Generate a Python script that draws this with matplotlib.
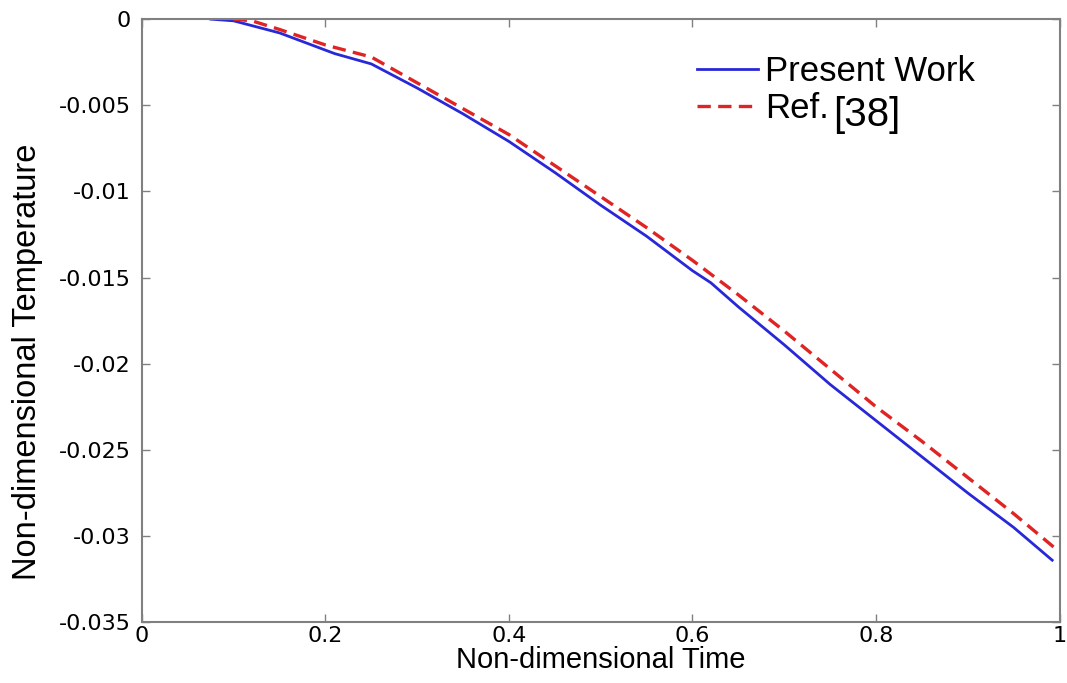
import matplotlib
matplotlib.use("Agg")
import matplotlib.pyplot as plt

# values
t_present = [0.075, 0.10, 0.15, 0.20, 0.21, 0.25, 0.30, 0.35, 0.40, 0.45, 0.50, 0.55, 0.58,
             0.60, 0.62, 0.65, 0.70, 0.75, 0.80, 0.85, 0.90, 0.95, 0.992]
T_present = [0.0, -0.0001, -0.0008, -0.0018, -0.0020, -0.0026, -0.0040, -0.0055, -0.0071,
             -0.0089, -0.0108, -0.0126, -0.0138, -0.0146, -0.0153, -0.0167, -0.0189, -0.0212,
             -0.0233, -0.0254, -0.0275, -0.0295, -0.0314]

t_ref = [0.10, 0.12, 0.15, 0.20, 0.25, 0.27, 0.30, 0.35, 0.40, 0.45, 0.50, 0.55, 0.60,
         0.65, 0.70, 0.75, 0.80, 0.85, 0.90, 0.95, 0.995]
T_ref = [0.0, -0.0001, -0.0006, -0.0015, -0.0022, -0.0028, -0.0037, -0.0052, -0.0067,
         -0.0085, -0.0103, -0.0121, -0.0140, -0.0160, -0.0181, -0.0203, -0.0225, -0.0245,
         -0.0266, -0.0287, -0.0307]

xticks = [0, 0.2, 0.4, 0.6, 0.8, 1]
xtick_labels = ['0', '0.2', '0.4', '0.6', '0.8', '1']
yticks = [0, -0.005, -0.01, -0.015, -0.02, -0.025, -0.03, -0.035]
ytick_labels = ['0', '-0.005', '-0.01', '-0.015', '-0.02', '-0.025', '-0.03', '-0.035']

plt.rcParams['font.family'] = ['Liberation Sans', 'DejaVu Sans']

fig = plt.figure(figsize=(10.67, 6.83), dpi=100)
ax = fig.add_axes([0.133, 0.089, 0.860, 0.883])

ax.plot(t_present, T_present, color='#2828d8', lw=2, label='Present Work')
ax.plot(t_ref, T_ref, color='#e02424', lw=2.4, ls=(0, (4, 2.2)), label='Ref.')

ax.set_xlim(0, 1)
ax.set_ylim(-0.035, 0)
ax.set_xticks(xticks)
ax.set_xticklabels(xtick_labels, family='DejaVu Sans')
ax.set_yticks(yticks)
ax.set_yticklabels(ytick_labels, family='DejaVu Sans')
ax.tick_params(direction='in', top=True, right=True, length=6, width=1,
               color='#808080', labelsize=16)
ax.tick_params(axis='y', pad=8)
ax.tick_params(axis='x', pad=3)
for s in ax.spines.values():
    s.set_color('#808080')
    s.set_linewidth(1.5)

ax.set_xlabel('Non-dimensional Time', fontsize=21)
ax.xaxis.set_label_coords(0.5, -0.04)
ax.set_ylabel('Non-dimensional Temperature', fontsize=23.5)
ax.yaxis.set_label_coords(-0.108, 0.431)

leg = ax.legend(loc='upper left', bbox_to_anchor=(0.605, 0.94), frameon=False,
                fontsize=25, handlelength=1.75, handletextpad=0.2, labelspacing=0.12,
                borderaxespad=0, borderpad=0)

# the reference number is set larger than "Ref." in the original legend
fig.canvas.draw()
bb = leg.get_texts()[1].get_window_extent()
x0, y0 = fig.transFigure.inverted().transform((bb.x1 + 5, bb.y0 - 1))
fig.text(x0, y0, '[38]', fontsize=29, va='baseline', ha='left')

fig.savefig('out.png', dpi=100)
